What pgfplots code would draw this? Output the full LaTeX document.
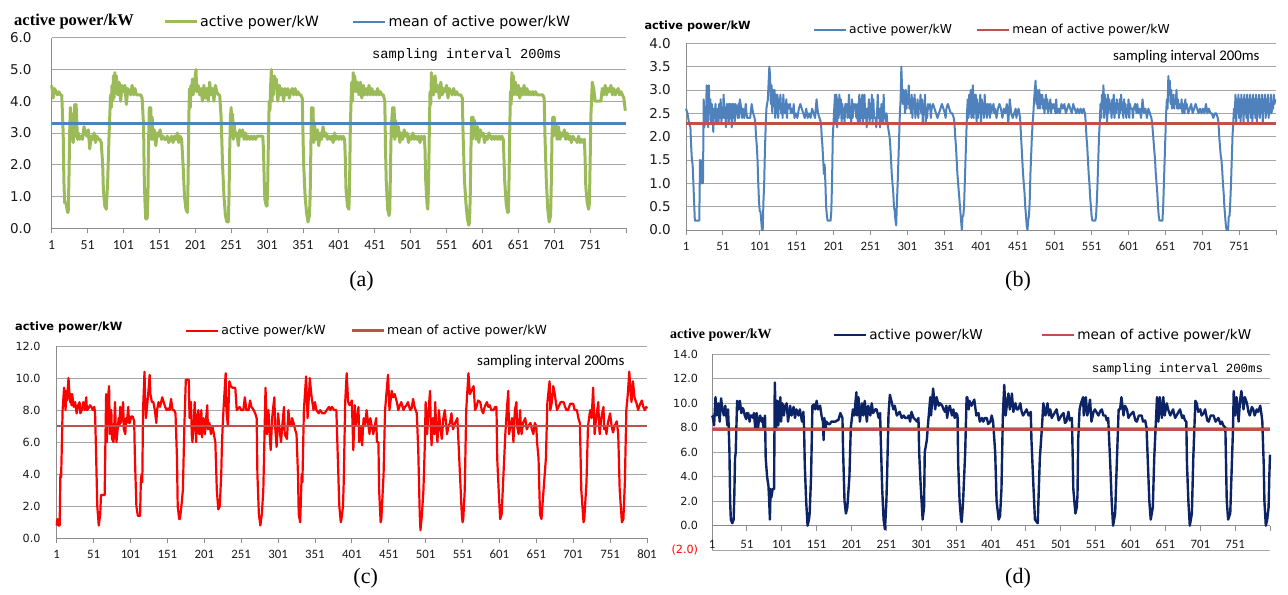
\documentclass[border=0pt]{standalone}
\usepackage{pgfplots}
\pgfplotsset{compat=1.18}
\usepackage{fontspec}
\setmainfont{Liberation Serif}
\newfontfamily\dejavu{DejaVu Sans}
\newfontfamily\carlito{Carlito}
\newfontfamily\lmono{Liberation Mono}
\definecolor{gridgray}{HTML}{A6A6A6}
\definecolor{axisgray}{HTML}{8C8C8C}
\definecolor{tickcol}{HTML}{1A1A1A}
\definecolor{xlgreen}{HTML}{9BBB59}
\definecolor{xlblue}{HTML}{4F81BD}
\definecolor{xlred}{HTML}{C0504D}
\definecolor{xlnavy}{HTML}{0C2466}
\newcommand{\fs}[1]{\fontsize{#1bp}{#1bp}\selectfont}
\pgfplotsset{
 excel/.style={
  scale only axis, enlargelimits=false, clip=false,
  axis x line*=bottom, axis y line*=left,
  axis line style={draw=axisgray, line width=0.9bp},
  ymajorgrids, grid style={draw=gridgray, line width=0.9bp},
  xmin=1, xmax=801, xtick={1,51,...,801},
  xtick align=outside, major tick length=5bp,
  xtick style={draw=axisgray, line width=0.9bp},
  ytick style={draw=none},
  tick label style={text=tickcol},
  hide obscured x ticks=false,
  legend columns=2,
  legend cell align=left,
  legend image code/.code={\draw[##1] (0bp,0bp) -- (32bp,0bp);},
  every axis plot/.append style={line join=round},
 }
}
\begin{document}
\begin{tikzpicture}
\useasboundingbox (0,0) rectangle (1288bp,595bp);
% ---------------- (a)
\begin{axis}[excel, at={(51.7bp,366.7bp)}, anchor=south west,
  width=574.3bp, height=190.6bp, ymin=0, ymax=6, ytick={0,1,...,6},
  yticklabels={0.0,1.0,2.0,3.0,4.0,5.0,6.0},
  xticklabels={1,51,101,151,201,251,301,351,401,451,501,551,601,651,701,751,{}},
  xticklabel style={anchor=center, inner sep=0pt, yshift=-11.5bp, font=\carlito\fs{13.8}},
  yticklabel style={anchor=east, inner sep=0pt, xshift=-20bp, font=\dejavu\fs{13.5}},
  ylabel={active power/kW},
  every axis y label/.style={at={(axis description cs:-0.0714,1.0824)}, anchor=west, font=\bfseries\fs{16.5}},
  legend style={at={(axis description cs:0.1938,1.0824)}, anchor=west, draw=none, fill=none, inner sep=0pt,
    font=\dejavu\fs{14.2}, nodes={inner sep=2bp}, /tikz/every even column/.append style={column sep=31bp}},
]
\addplot[xlgreen, line width=3bp] coordinates {
(1,4.5) (3,4.1) (5,4.4) (7,4.3) (9,4.2) (11,4.3) (13,4.2) (15,4.2) (17,3.0) (18,1.5) (19,0.8) (21,0.8) (23,0.5) (24,0.5) (25,1.5) (26,3.0) (27,3.8) (28,2.8) (29,3.6) (30,3.0) (31,2.7) (32,3.5) (33,3.9) (34,2.9) (35,3.9) (36,3.3) (37,2.8) (38,3.0) (40,2.8) (42,2.9) (44,2.8) (46,3.2) (48,3.0) (50,2.9) (52,3.1) (54,2.5) (56,2.9) (58,2.8) (60,3.0) (62,2.7) (64,2.9) (66,2.8) (68,2.8) (70,2.7) (72,2.0) (73,1.2) (75,0.7) (77,0.6) (79,1.5) (81,3.0) (82,3.6) (83,4.2) (84,3.8) (85,4.5) (86,4.0) (87,4.8) (88,4.1) (89,4.9) (90,4.3) (91,4.8) (93,4.2) (95,4.6) (97,4.0) (99,4.5) (101,4.3) (103,4.5) (105,3.9) (107,4.4) (109,4.3) (111,4.2) (113,4.5) (115,4.2) (117,4.4) (119,4.2) (121,4.2) (123,4.2) (125,4.2) (127,4.1) (129,3.2) (130,1.5) (131,0.8) (132,0.3) (134,0.3) (135,1.0) (136,2.8) (137,3.8) (138,2.9) (139,3.8) (140,2.8) (141,3.5) (142,2.8) (144,3.1) (146,2.6) (148,3.0) (150,2.9) (152,3.1) (154,2.8) (156,2.9) (158,2.8) (160,2.8) (162,2.9) (164,2.7) (166,2.8) (168,2.9) (170,2.7) (172,2.9) (174,2.8) (176,3.0) (178,2.7) (180,2.9) (182,2.8) (184,2.0) (186,1.0) (188,0.6) (190,0.5) (191,1.5) (192,3.5) (193,4.4) (194,3.8) (195,4.5) (196,4.2) (197,4.7) (198,4.2) (200,4.6) (202,5.0) (203,4.3) (205,4.5) (207,4.2) (209,4.4) (211,4.0) (213,4.5) (215,4.1) (217,4.4) (219,4.0) (221,4.6) (223,4.2) (225,4.4) (227,4.0) (229,4.5) (231,4.3) (233,4.2) (235,4.2) (237,3.5) (239,2.0) (241,1.0) (243,0.4) (245,0.2) (247,0.2) (248,1.0) (249,2.5) (250,3.5) (251,3.8) (252,2.9) (253,3.6) (254,2.8) (255,3.3) (257,2.9) (259,3.0) (261,2.6) (263,3.1) (265,2.9) (267,3.1) (269,2.8) (271,3.0) (273,2.8) (275,2.9) (277,2.8) (279,2.9) (281,2.8) (283,2.9) (285,2.8) (287,2.9) (289,2.9) (291,2.9) (293,2.9) (295,2.9) (296,2.5) (297,1.5) (298,0.9) (300,0.7) (301,0.7) (302,1.5) (303,3.0) (304,4.0) (305,3.7) (306,4.5) (307,5.0) (308,4.0) (309,4.7) (310,4.2) (311,4.8) (312,4.4) (314,4.7) (316,4.0) (318,4.5) (320,4.2) (322,4.4) (324,4.0) (326,4.4) (328,4.2) (330,4.4) (332,4.1) (334,4.3) (336,4.4) (338,4.2) (340,4.4) (342,4.2) (344,4.3) (346,4.2) (348,4.2) (350,4.1) (351,3.0) (352,2.0) (354,1.0) (356,0.5) (358,0.2) (360,0.4) (361,1.0) (362,2.5) (363,3.8) (364,2.9) (365,3.8) (366,2.7) (367,3.3) (369,2.8) (371,3.1) (373,2.6) (375,3.0) (377,2.8) (379,3.2) (381,2.9) (383,3.0) (385,2.8) (387,2.9) (389,2.8) (391,2.9) (393,2.7) (395,3.0) (397,2.8) (399,2.9) (401,2.8) (403,2.9) (405,2.8) (407,2.9) (409,2.8) (410,2.2) (411,1.2) (413,0.7) (415,0.6) (416,1.5) (417,3.2) (418,4.0) (419,4.6) (420,4.0) (421,4.9) (422,4.3) (423,4.8) (425,4.3) (427,4.6) (429,4.2) (431,4.6) (433,4.1) (435,4.5) (437,4.2) (439,4.4) (441,4.2) (443,4.5) (445,4.2) (447,4.4) (449,4.2) (451,4.3) (453,4.2) (455,4.4) (457,4.2) (459,4.3) (461,4.2) (463,4.2) (465,4.0) (466,2.5) (467,1.5) (469,0.6) (471,0.4) (472,0.6) (473,2.0) (474,3.2) (476,3.8) (477,2.9) (478,3.8) (479,2.8) (480,3.4) (482,2.9) (484,3.2) (486,2.7) (488,3.0) (490,2.8) (492,3.1) (494,2.9) (496,3.0) (498,2.7) (500,2.9) (502,2.8) (504,3.0) (506,2.8) (508,2.9) (510,2.8) (512,2.9) (514,2.7) (516,2.9) (518,2.8) (520,2.9) (521,2.5) (522,1.5) (524,0.7) (525,0.6) (526,1.5) (527,3.0) (528,4.3) (529,3.9) (530,4.9) (531,4.2) (532,4.6) (533,4.2) (535,4.8) (537,4.3) (539,4.5) (541,4.1) (543,4.6) (545,4.2) (547,4.4) (549,4.3) (551,4.5) (553,4.1) (555,4.4) (557,4.3) (559,4.2) (561,4.4) (563,4.2) (565,4.3) (567,4.2) (569,4.2) (571,4.2) (573,4.1) (574,3.0) (576,1.5) (578,0.8) (580,0.3) (582,0.1) (583,0.2) (584,1.0) (585,2.5) (586,3.5) (587,2.8) (588,3.5) (589,3.0) (590,3.4) (592,2.8) (594,3.2) (596,2.7) (598,3.1) (600,2.9) (602,3.0) (604,2.7) (606,2.9) (608,2.8) (610,3.0) (612,2.9) (614,2.8) (616,2.9) (618,2.8) (620,2.9) (622,2.8) (624,2.9) (626,2.8) (628,2.9) (630,2.8) (631,2.2) (632,1.5) (634,0.8) (636,0.5) (637,0.5) (638,1.5) (639,3.0) (640,4.3) (641,3.9) (642,4.9) (643,4.3) (644,4.8) (645,4.2) (647,4.6) (649,4.2) (651,4.5) (653,4.1) (655,4.4) (657,4.2) (659,4.5) (661,4.2) (663,4.4) (665,4.2) (667,4.3) (669,4.2) (671,4.3) (673,4.2) (675,4.3) (677,4.2) (679,4.2) (681,4.2) (683,4.2) (685,4.2) (687,4.1) (688,3.0) (690,1.5) (692,0.6) (694,0.2) (696,0.4) (697,1.5) (698,3.0) (699,3.5) (700,2.9) (701,3.5) (702,3.0) (703,3.3) (705,2.8) (707,3.2) (709,2.8) (711,3.0) (713,2.9) (715,3.1) (717,2.8) (719,3.0) (721,2.8) (723,2.9) (725,2.7) (727,2.9) (729,2.8) (731,2.8) (733,2.7) (735,2.9) (737,2.7) (739,2.8) (741,2.7) (743,2.8) (744,2.2) (745,1.3) (747,0.8) (749,0.6) (750,0.8) (751,2.0) (752,3.5) (754,4.6) (756,4.4) (758,4.0) (760,4.0) (762,4.0) (764,4.0) (766,4.0) (768,4.4) (770,4.2) (772,4.5) (774,4.2) (776,4.4) (778,4.3) (780,4.5) (782,4.2) (784,4.4) (786,4.2) (788,4.3) (790,4.4) (792,4.2) (794,4.3) (796,4.2) (798,4.1) (800,3.7)};
\addlegendentry{active power/kW}
\addplot[xlblue, line width=2.8bp] coordinates {(1,3.3) (801,3.3)};
\addlegendentry{mean of active power/kW}
\node[anchor=west, inner sep=0pt, font=\lmono\fs{13.7}] at (axis description cs:0.5577,0.9092) {sampling interval 200ms};
\end{axis}
% ---------------- (b)
\begin{axis}[excel, at={(686bp,365bp)}, anchor=south west,
  width=590bp, height=186.7bp, ymin=0, ymax=4, ytick={0,0.5,...,4},
  yticklabels={0.0,0.5,1.0,1.5,2.0,2.5,3.0,3.5,4.0},
  xticklabels={1,51,101,151,201,251,301,351,401,451,501,551,601,651,701,751,{}},
  xticklabel style={anchor=center, inner sep=0pt, yshift=-11bp, font=\carlito\fs{12.8}},
  yticklabel style={anchor=east, inner sep=0pt, xshift=-15bp, font=\dejavu\fs{13.5}},
  ylabel={active power/kW},
  every axis y label/.style={at={(axis description cs:-0.0763,1.092)}, anchor=west, font=\dejavu\bfseries\fs{11.3}},
  legend style={at={(axis description cs:0.2153,1.0712)}, anchor=west, draw=none, fill=none, inner sep=0pt,
    font=\dejavu\fs{12.3}, nodes={inner sep=2bp}, /tikz/every even column/.append style={column sep=22bp}},
]
\addplot[xlblue, line width=2bp] coordinates {
(1,2.6) (3,2.5) (5,2.3) (7,2.2) (8,1.8) (9,1.5) (10,1.4) (11,1.0) (12,0.6) (13,0.2) (15,0.2) (17,0.2) (19,0.2) (20,1.5) (21,1.0) (22,1.0) (23,1.5) (24,1.0) (25,2.8) (26,2.2) (27,2.6) (28,2.3) (29,3.1) (30,2.4) (31,2.2) (32,3.1) (33,2.5) (34,2.8) (35,2.3) (36,2.7) (37,2.5) (38,2.1) (39,2.6) (40,2.4) (41,2.7) (42,2.3) (44,2.6) (45,2.3) (46,2.7) (47,2.4) (48,2.8) (49,2.3) (50,2.6) (51,2.4) (52,2.9) (53,2.4) (54,2.6) (55,2.2) (56,2.7) (57,2.4) (58,2.7) (59,2.3) (60,2.7) (61,2.4) (62,2.7) (63,2.2) (64,2.7) (65,2.4) (66,2.7) (67,2.3) (68,2.7) (70,2.6) (71,2.4) (72,2.7) (73,2.4) (74,2.8) (76,2.6) (77,2.4) (78,2.6) (80,2.4) (82,2.7) (83,2.5) (84,2.4) (86,2.4) (88,2.4) (90,2.7) (92,2.5) (94,2.4) (95,2.3) (96,2.0) (97,1.8) (98,1.5) (99,1.0) (100,0.6) (101,0.4) (102,0.4) (103,0.2) (104,0.0) (105,0.0) (106,0.6) (107,1.0) (108,1.7) (109,2.2) (110,2.6) (112,2.8) (114,3.5) (115,3.3) (116,2.7) (117,3.1) (118,2.5) (119,3.0) (120,2.7) (121,3.0) (122,2.4) (123,2.9) (124,2.5) (125,2.9) (126,2.4) (127,2.8) (128,2.6) (129,2.9) (130,2.5) (131,2.7) (132,2.4) (133,2.9) (134,2.5) (135,2.7) (136,2.5) (137,2.8) (138,2.4) (139,2.7) (140,2.6) (142,2.7) (143,2.5) (144,2.6) (146,2.5) (147,2.7) (148,2.4) (150,2.5) (152,2.4) (154,2.6) (156,2.7) (158,2.6) (160,2.5) (162,2.4) (164,2.6) (166,2.4) (168,2.5) (170,2.4) (172,2.6) (174,2.5) (176,2.4) (178,2.8) (180,2.5) (182,2.4) (184,2.3) (185,2.0) (186,1.8) (187,1.5) (188,1.2) (189,1.4) (190,1.0) (191,0.5) (192,0.3) (193,0.2) (195,0.2) (197,0.2) (198,0.4) (199,1.0) (200,2.0) (201,2.3) (202,2.6) (203,2.9) (204,2.3) (205,2.9) (206,2.2) (207,2.8) (208,2.4) (209,2.9) (210,2.5) (211,2.8) (212,2.3) (213,2.7) (214,2.4) (215,2.6) (216,2.3) (217,2.7) (218,2.6) (219,2.7) (220,2.4) (221,2.6) (222,2.9) (223,2.4) (224,2.6) (225,2.3) (226,2.8) (227,2.4) (228,2.7) (229,2.6) (230,2.7) (232,2.4) (233,2.7) (234,2.3) (235,2.6) (236,2.9) (237,2.3) (238,2.8) (239,2.4) (240,2.9) (241,2.3) (242,2.5) (243,2.9) (244,2.4) (245,2.6) (246,2.2) (247,2.6) (248,2.5) (249,2.8) (250,2.3) (251,2.7) (252,2.4) (253,2.9) (254,2.3) (255,2.8) (256,2.4) (258,2.4) (259,2.2) (260,2.5) (261,2.9) (262,2.4) (263,2.6) (264,2.2) (266,2.7) (267,2.4) (268,2.3) (269,2.9) (270,2.4) (271,2.5) (272,2.3) (273,2.5) (274,2.3) (275,2.2) (277,2.0) (278,1.8) (279,1.5) (280,1.2) (281,1.0) (282,0.8) (283,0.5) (284,0.4) (285,0.2) (286,0.1) (287,0.6) (288,1.0) (289,1.5) (290,2.0) (291,2.5) (292,2.8) (293,3.5) (294,3.0) (295,2.7) (296,3.0) (297,2.8) (298,2.5) (299,3.0) (300,2.6) (301,2.9) (302,2.7) (303,3.1) (304,2.6) (305,2.8) (306,2.5) (307,2.9) (308,2.4) (309,2.8) (310,2.6) (311,2.9) (312,2.4) (313,2.7) (314,2.5) (315,2.8) (316,2.4) (317,2.7) (318,2.6) (319,2.9) (320,2.5) (321,2.8) (322,2.3) (323,2.7) (324,2.5) (325,2.9) (326,2.3) (327,2.6) (328,2.4) (329,2.7) (330,2.6) (332,2.7) (333,2.4) (334,2.6) (336,2.7) (338,2.6) (340,2.5) (342,2.4) (344,2.5) (346,2.6) (348,2.7) (350,2.6) (352,2.5) (353,2.4) (354,2.6) (356,2.7) (358,2.6) (360,2.5) (362,2.5) (364,2.4) (365,2.3) (366,2.0) (367,1.8) (368,1.5) (369,1.2) (370,1.0) (371,0.8) (372,0.6) (373,0.4) (374,0.2) (375,0.0) (376,0.3) (377,0.3) (378,0.5) (379,1.0) (380,1.5) (381,2.0) (382,2.5) (383,2.8) (384,2.4) (385,2.9) (386,2.5) (387,3.0) (388,2.4) (389,2.8) (390,3.1) (391,2.4) (392,2.9) (393,2.5) (394,2.9) (395,2.3) (396,2.8) (397,2.4) (398,2.7) (399,2.5) (400,2.9) (401,2.3) (402,2.8) (403,2.5) (404,2.7) (405,2.4) (406,2.9) (407,2.5) (408,2.7) (409,2.4) (410,2.7) (411,2.5) (412,2.7) (413,2.4) (414,2.7) (415,2.5) (416,2.6) (418,2.7) (419,2.5) (420,2.6) (422,2.4) (424,2.6) (426,2.7) (428,2.6) (430,2.4) (432,2.6) (434,2.5) (436,2.7) (438,2.3) (440,2.8) (442,2.5) (444,2.4) (446,2.5) (448,2.6) (449,2.4) (450,2.5) (452,2.6) (454,2.4) (455,2.1) (456,1.8) (457,1.5) (458,1.2) (459,1.0) (460,0.8) (461,0.5) (462,0.3) (463,0.1) (464,0.0) (465,0.2) (466,0.3) (467,0.6) (468,1.2) (469,1.6) (470,2.0) (471,2.3) (472,2.5) (473,2.8) (474,3.0) (475,3.2) (476,2.7) (477,3.0) (478,2.6) (479,2.8) (480,3.0) (481,2.6) (482,2.9) (483,2.7) (484,2.9) (485,2.6) (486,2.8) (487,2.5) (488,2.7) (489,2.9) (490,2.6) (491,2.8) (492,2.5) (493,2.7) (494,2.6) (495,2.8) (496,2.5) (497,2.7) (498,2.6) (500,2.7) (502,2.5) (503,2.8) (504,2.5) (506,2.6) (508,2.5) (510,2.7) (512,2.6) (514,2.7) (516,2.5) (518,2.6) (520,2.7) (522,2.6) (524,2.5) (526,2.7) (528,2.6) (530,2.5) (532,2.6) (534,2.5) (536,2.6) (538,2.5) (540,2.6) (542,2.5) (543,2.3) (544,2.0) (545,1.8) (546,1.5) (547,1.2) (548,1.0) (549,0.7) (550,0.5) (551,0.3) (552,0.2) (554,0.2) (556,0.2) (557,0.3) (558,0.6) (559,1.0) (560,1.5) (561,2.0) (562,2.3) (563,2.7) (564,2.4) (565,2.9) (566,2.6) (567,3.1) (568,2.4) (569,2.9) (570,2.5) (571,2.8) (572,2.3) (573,2.9) (574,2.5) (575,2.8) (576,2.6) (577,2.7) (578,2.4) (579,2.8) (580,2.5) (581,2.9) (582,2.4) (583,2.7) (584,2.5) (585,2.8) (586,2.6) (587,2.7) (588,2.4) (589,2.8) (590,2.5) (591,2.9) (592,2.6) (593,2.7) (594,2.4) (595,2.8) (596,2.5) (597,2.7) (598,2.4) (599,2.6) (600,2.5) (601,2.8) (602,2.4) (603,2.7) (604,2.6) (606,2.6) (607,2.4) (608,2.6) (610,2.7) (612,2.5) (613,2.7) (614,2.5) (616,2.6) (618,2.4) (620,2.8) (622,2.5) (624,2.6) (626,2.4) (628,2.6) (630,2.5) (632,2.4) (633,2.3) (634,2.1) (635,1.9) (636,1.7) (637,1.5) (638,1.2) (639,1.0) (640,0.8) (641,0.5) (642,0.3) (643,0.2) (645,0.2) (647,0.2) (648,0.5) (649,1.0) (650,1.5) (651,2.0) (652,2.5) (653,2.8) (654,2.6) (655,3.3) (656,2.9) (657,3.2) (658,2.7) (659,3.0) (660,2.6) (661,2.8) (662,2.9) (663,2.6) (664,2.8) (665,2.7) (666,3.0) (667,2.6) (668,2.8) (669,2.6) (670,2.7) (672,2.6) (673,2.8) (674,2.5) (676,2.7) (677,2.5) (678,2.8) (679,2.6) (680,2.7) (682,2.5) (684,2.6) (686,2.7) (688,2.5) (690,2.6) (692,2.7) (694,2.6) (696,2.5) (698,2.6) (700,2.5) (702,2.6) (704,2.5) (706,2.7) (708,2.5) (710,2.6) (712,2.5) (714,2.5) (716,2.4) (718,2.5) (720,2.5) (722,2.4) (723,2.3) (724,2.0) (725,1.8) (726,1.6) (727,1.5) (728,1.3) (729,1.0) (730,0.8) (731,0.5) (732,0.3) (733,0.1) (734,0.0) (736,0.0) (737,0.3) (738,0.3) (739,0.6) (740,1.0) (741,1.5) (742,2.0) (743,2.3) (744,2.6) (745,2.4) (746,2.9) (747,2.3) (748,2.8) (749,2.5) (750,2.9) (751,2.4) (752,2.8) (753,2.3) (754,2.9) (755,2.5) (756,2.8) (757,2.3) (758,2.9) (759,2.5) (760,2.8) (761,2.4) (762,2.9) (763,2.3) (764,2.8) (765,2.5) (766,2.9) (767,2.4) (768,2.8) (769,2.3) (770,2.9) (771,2.5) (772,2.8) (773,2.4) (774,2.9) (775,2.3) (776,2.8) (777,2.5) (778,2.9) (779,2.4) (780,2.8) (781,2.5) (782,2.9) (783,2.3) (784,2.8) (785,2.6) (786,2.9) (787,2.4) (788,2.8) (789,2.5) (790,2.9) (791,2.4) (792,2.7) (793,2.5) (794,2.9) (795,2.5) (796,2.7) (797,2.6) (798,2.9) (799,2.7) (800,2.8)};
\addlegendentry{active power/kW}
\addplot[xlred, line width=2.4bp] coordinates {(1,2.28) (801,2.28)};
\addlegendentry{mean of active power/kW}
\node[anchor=west, inner sep=0pt, font=\carlito\fs{14.8}] at (axis description cs:0.7237,0.9266) {sampling interval 200ms};
\end{axis}
% ---------------- (c)
\begin{axis}[excel, at={(56.7bp,56.7bp)}, anchor=south west,
  width=590.3bp, height=192.3bp, ymin=0, ymax=12, ytick={0,2,...,12},
  yticklabels={0.0,2.0,4.0,6.0,8.0,10.0,12.0},
  xticklabels={1,51,101,151,201,251,301,351,401,451,501,551,601,651,701,751,801},
  xticklabel style={anchor=center, inner sep=0pt, yshift=-11bp, font=\carlito\fs{12.8}},
  yticklabel style={anchor=east, inner sep=0pt, xshift=-16bp, font=\dejavu\fs{11.2}},
  ylabel={active power/kW},
  every axis y label/.style={at={(axis description cs:-0.0762,1.0988)}, anchor=west, font=\dejavu\bfseries\fs{11.4}},
  legend style={at={(axis description cs:0.2173,1.0796)}, anchor=west, draw=none, fill=none, inner sep=0pt,
    font=\dejavu\fs{12.5}, nodes={inner sep=2bp}, /tikz/every even column/.append style={column sep=23bp}},
]
\addplot[red, line width=2.2bp] coordinates {
(1,0.8) (2,1.2) (3,0.8) (5,0.8) (6,4.0) (7,3.8) (9,8.0) (11,9.4) (13,8.0) (14,9.2) (15,8.6) (17,10.0) (19,8.5) (20,9.0) (21,8.3) (22,9.0) (24,8.2) (26,8.5) (28,7.8) (30,8.3) (32,8.5) (33,7.8) (35,8.0) (37,8.5) (39,8.0) (41,8.8) (42,8.0) (44,8.1) (46,8.3) (48,8.2) (50,8.0) (52,8.2) (53,7.8) (54,6.0) (56,2.0) (58,0.8) (60,1.5) (61,2.7) (63,2.7) (66,2.7) (67,6.0) (68,9.0) (69,6.0) (70,8.5) (72,9.5) (73,6.5) (74,7.5) (75,8.0) (76,6.2) (78,6.0) (79,7.0) (80,8.5) (81,7.0) (82,6.0) (83,6.5) (85,7.5) (86,7.0) (87,8.2) (88,7.2) (89,7.5) (91,8.5) (92,6.8) (94,6.5) (95,7.5) (96,7.2) (98,8.2) (99,7.2) (100,7.2) (102,7.6) (104,7.6) (106,7.3) (107,5.0) (109,2.0) (111,1.4) (114,1.4) (115,3.5) (116,4.0) (117,3.5) (118,8.0) (120,10.4) (121,8.5) (122,7.5) (123,8.0) (125,9.0) (127,10.2) (128,9.0) (130,8.5) (132,8.5) (134,8.0) (136,7.2) (137,8.0) (139,8.5) (141,8.2) (143,8.6) (144,8.8) (146,8.5) (148,8.2) (150,8.0) (152,8.1) (154,8.0) (156,8.7) (158,8.0) (160,8.0) (162,7.8) (164,5.0) (165,2.0) (167,1.2) (168,1.2) (170,2.0) (172,3.0) (174,7.0) (176,9.9) (178,9.9) (180,9.9) (181,7.5) (183,8.5) (184,6.5) (185,6.0) (187,7.5) (188,8.5) (190,6.0) (191,7.5) (193,8.0) (194,6.5) (195,6.5) (197,8.0) (198,6.3) (200,7.5) (202,6.5) (203,7.2) (205,8.3) (206,6.8) (208,7.2) (210,6.5) (212,7.0) (214,6.5) (216,6.0) (218,3.0) (220,1.8) (222,2.0) (224,4.0) (225,6.0) (227,8.0) (230,10.3) (231,8.0) (233,7.0) (235,9.8) (237,9.5) (239,9.4) (241,9.4) (243,9.4) (245,8.0) (247,8.1) (249,8.2) (251,8.0) (254,8.0) (256,8.8) (258,8.0) (261,8.0) (263,8.6) (265,8.2) (268,8.0) (270,7.8) (272,7.5) (273,4.0) (275,1.5) (277,0.8) (279,1.5) (281,3.0) (284,9.4) (286,6.5) (288,8.0) (289,7.0) (291,5.5) (293,7.5) (294,8.0) (296,8.8) (297,7.0) (299,5.7) (300,6.5) (301,7.8) (303,6.8) (305,6.0) (307,7.2) (309,8.2) (310,6.5) (313,6.2) (314,7.0) (315,8.0) (317,7.0) (319,7.0) (320,7.5) (322,7.2) (324,6.8) (326,6.5) (328,4.0) (329,1.5) (331,1.0) (333,4.0) (334,3.5) (336,8.0) (339,10.1) (341,7.5) (343,9.0) (344,10.0) (346,9.0) (349,8.0) (351,8.5) (353,8.0) (356,7.8) (358,8.0) (361,7.8) (364,7.8) (367,8.0) (370,8.2) (372,8.0) (374,8.2) (377,8.0) (380,8.0) (382,5.0) (384,2.0) (386,1.0) (387,1.2) (389,2.0) (390,3.5) (392,8.5) (394,10.3) (396,8.5) (398,8.3) (401,8.6) (402,7.0) (403,5.5) (405,8.3) (406,7.0) (408,7.5) (410,8.2) (411,6.0) (413,7.0) (415,5.8) (416,6.8) (417,7.5) (419,7.0) (421,8.0) (423,7.2) (425,6.5) (426,7.5) (428,7.0) (430,6.5) (432,7.0) (434,7.5) (435,6.0) (437,6.0) (438,3.0) (440,1.0) (441,1.2) (444,4.0) (446,8.0) (450,10.2) (452,8.0) (455,9.2) (457,8.8) (459,9.0) (462,8.5) (464,8.0) (466,8.3) (468,8.5) (471,8.0) (473,8.2) (475,8.3) (477,8.5) (480,8.0) (482,8.1) (484,8.7) (486,8.2) (489,7.8) (491,5.5) (493,1.5) (494,0.5) (496,1.5) (498,3.0) (500,6.0) (501,8.5) (503,6.5) (505,8.0) (507,9.2) (508,7.0) (509,5.8) (511,7.5) (513,6.5) (514,8.5) (515,7.2) (517,6.0) (518,7.0) (519,8.0) (521,6.8) (523,6.2) (525,7.5) (527,8.0) (529,7.0) (530,6.5) (532,7.0) (534,7.2) (536,7.8) (538,6.8) (541,7.2) (544,7.5) (545,6.5) (547,4.5) (550,1.5) (551,1.0) (552,1.2) (554,3.0) (556,8.0) (559,10.3) (561,9.0) (563,9.2) (566,9.5) (568,8.0) (570,8.2) (572,8.6) (575,8.5) (577,8.0) (579,7.8) (581,8.2) (584,8.5) (586,8.2) (588,8.3) (590,8.0) (593,8.0) (595,8.2) (597,8.2) (598,5.0) (600,3.0) (602,1.2) (604,1.5) (606,3.5) (609,6.5) (611,8.0) (613,9.2) (614,6.5) (616,7.0) (618,7.5) (620,6.0) (621,7.2) (622,8.0) (624,8.5) (625,7.0) (627,6.5) (629,8.0) (630,7.0) (631,6.5) (633,7.2) (636,7.5) (638,6.8) (640,7.0) (643,7.2) (645,6.8) (647,6.5) (649,7.2) (651,7.0) (652,6.0) (654,5.0) (656,1.5) (658,1.2) (660,2.5) (664,5.0) (666,8.5) (669,9.8) (670,8.0) (672,8.5) (674,9.5) (676,9.0) (679,8.0) (681,8.2) (684,8.5) (688,8.5) (690,8.2) (692,8.0) (694,8.0) (697,8.4) (701,8.4) (703,8.0) (706,8.0) (708,7.5) (710,7.2) (712,3.0) (715,1.0) (716,1.2) (719,3.5) (721,7.0) (724,8.0) (726,7.5) (728,9.4) (730,6.5) (732,7.5) (735,8.5) (736,7.0) (737,6.5) (739,7.5) (742,8.2) (743,6.8) (745,7.0) (746,6.5) (748,7.2) (751,7.8) (753,7.0) (755,6.6) (757,7.0) (760,7.3) (762,6.5) (764,3.0) (767,1.0) (769,1.2) (771,3.5) (773,8.0) (775,9.0) (777,10.4) (779,9.0) (780,8.5) (782,9.8) (784,8.8) (787,8.4) (789,8.0) (791,8.3) (794,8.6) (796,8.2) (798,8.0) (800,8.2) (801,8.1)};
\addlegendentry{active power/kW}
\addplot[xlred, line width=2.4bp] coordinates {(1,7.0) (801,7.0)};
\addlegendentry{mean of active power/kW}
\node[anchor=west, inner sep=0pt, font=\carlito\fs{14.9}] at (axis description cs:0.712,0.9183) {sampling interval 200ms};
\end{axis}
% ---------------- (d)
\begin{axis}[excel, at={(712bp,44.8bp)}, anchor=south west, axis x line*=middle,
  width=558bp, height=195.9bp, ymin=-2, ymax=14, ytick={-2,0,...,14},
  yticklabels={{\color{red}(2.0)},0.0,2.0,4.0,6.0,8.0,10.0,12.0,14.0},
  xticklabels={1,51,101,151,201,251,301,351,401,451,501,551,601,651,701,751,{}},
  xticklabel style={anchor=center, inner sep=0pt, yshift=-14bp, font=\carlito\fs{12.8}},
  yticklabel style={anchor=east, inner sep=0pt, xshift=-13.7bp, font=\dejavu\fs{11.2}},
  ylabel={active power/kW},
  every axis y label/.style={at={(axis description cs:-0.0812,1.0985)}, anchor=west, font=\bfseries\fs{14}},
  legend style={at={(axis description cs:0.2163,1.0985)}, anchor=west, draw=none, fill=none, inner sep=0pt,
    font=\dejavu\fs{13.6}, nodes={inner sep=2bp}, /tikz/every even column/.append style={column sep=56bp}},
]
\addplot[xlnavy, line width=2.4bp] coordinates {
(1,9.0) (2,8.9) (4,8.2) (6,10.5) (8,9.0) (10,10.0) (12,8.5) (14,10.4) (16,9.5) (18,9.0) (20,9.8) (21,9.2) (22,8.8) (23,8.2) (24,9.5) (25,8.0) (26,6.0) (27,2.0) (28,0.5) (30,0.2) (32,0.5) (33,2.5) (34,5.5) (35,6.0) (37,10.2) (39,9.5) (40,10.0) (41,10.2) (43,9.2) (45,9.6) (46,9.5) (48,9.0) (50,8.7) (51,9.2) (53,9.2) (55,8.5) (56,9.0) (58,9.0) (60,8.8) (61,9.2) (63,8.0) (65,9.2) (67,8.0) (68,8.5) (70,9.0) (72,8.5) (73,8.8) (75,8.0) (77,9.0) (78,5.5) (80,4.0) (82,3.2) (83,2.0) (84,0.5) (85,3.0) (86,2.3) (88,3.0) (90,3.0) (91,11.7) (93,8.0) (95,10.2) (96,8.2) (97,9.5) (99,10.5) (100,8.5) (102,10.0) (104,9.0) (106,9.8) (108,10.0) (110,8.5) (113,9.8) (115,9.0) (118,9.7) (120,8.8) (122,9.5) (125,9.0) (127,9.5) (130,8.5) (132,9.3) (133,8.0) (134,5.0) (136,2.0) (138,0.0) (140,0.5) (141,1.0) (143,4.0) (145,9.8) (147,9.9) (149,9.5) (151,10.2) (153,9.5) (156,9.8) (158,9.0) (160,8.5) (161,7.0) (162,8.8) (164,8.0) (165,8.5) (168,8.3) (170,8.3) (172,8.5) (175,8.5) (178,8.5) (180,8.6) (182,8.6) (185,9.2) (188,8.8) (189,6.0) (191,2.0) (193,1.0) (195,1.5) (198,4.0) (200,8.0) (203,9.5) (205,9.0) (208,10.9) (209,9.0) (211,10.5) (213,8.5) (216,10.0) (218,9.0) (220,10.2) (223,8.5) (225,9.8) (228,9.0) (230,10.0) (232,9.2) (235,9.5) (237,9.5) (240,8.8) (242,9.2) (243,7.0) (245,3.0) (247,0.5) (249,-0.3) (251,2.0) (252,4.0) (254,9.0) (256,10.7) (259,10.0) (261,9.5) (263,9.8) (266,9.0) (270,9.3) (273,8.8) (276,9.0) (278,8.8) (281,8.8) (283,9.0) (285,8.5) (287,9.3) (290,8.8) (292,8.7) (295,8.5) (297,8.8) (298,6.0) (300,3.5) (302,1.5) (303,0.5) (305,1.5) (306,6.0) (309,7.0) (311,8.5) (314,10.5) (315,9.0) (318,11.2) (321,9.5) (323,10.5) (326,9.8) (328,10.0) (331,9.8) (333,9.5) (335,9.3) (337,9.8) (338,8.8) (340,9.5) (342,9.8) (345,9.0) (347,9.5) (349,8.8) (351,9.2) (353,9.0) (354,5.0) (356,2.0) (358,0.5) (359,0.3) (361,2.0) (364,6.0) (366,10.5) (367,10.5) (369,9.5) (370,10.2) (373,9.8) (377,10.3) (380,9.0) (383,9.2) (385,8.5) (388,8.8) (390,8.5) (392,8.8) (395,8.8) (397,8.3) (400,8.5) (402,9.0) (404,8.5) (407,6.0) (409,2.0) (412,0.5) (414,0.8) (416,3.0) (418,9.0) (420,11.5) (422,9.0) (424,10.0) (426,10.8) (428,9.5) (431,10.8) (433,9.3) (436,10.0) (438,9.5) (440,9.5) (443,10.0) (445,9.3) (447,9.0) (450,9.3) (452,9.5) (455,9.0) (458,9.3) (459,7.0) (462,3.0) (464,0.5) (468,0.2) (469,2.0) (471,5.5) (474,8.0) (476,10.0) (479,9.0) (482,10.0) (484,9.0) (486,9.5) (488,8.8) (490,9.0) (493,9.3) (495,9.5) (498,8.6) (500,8.8) (502,9.0) (505,9.2) (507,8.4) (509,8.5) (512,9.3) (514,8.6) (517,8.8) (518,6.0) (519,3.0) (522,1.0) (524,1.5) (525,2.5) (526,7.0) (528,9.5) (530,10.0) (533,10.5) (534,9.0) (536,9.8) (537,10.5) (539,9.0) (541,9.5) (543,10.3) (545,8.5) (548,9.3) (550,9.5) (553,9.2) (555,9.0) (558,9.4) (560,9.5) (562,9.0) (565,9.0) (567,8.6) (569,8.8) (572,5.0) (574,2.0) (576,0.0) (579,1.0) (581,4.5) (584,9.5) (586,9.5) (588,10.5) (591,9.0) (593,9.8) (596,9.5) (598,8.8) (600,9.0) (603,9.2) (605,9.3) (608,8.6) (610,8.5) (613,9.0) (617,9.0) (619,8.5) (622,8.6) (624,8.0) (626,5.0) (628,2.0) (630,0.5) (633,1.5) (635,5.5) (639,10.5) (641,8.5) (643,10.5) (646,8.8) (648,10.5) (650,9.0) (653,10.0) (655,9.5) (658,9.0) (662,9.5) (665,8.8) (667,9.0) (670,9.3) (672,9.5) (675,8.8) (677,9.0) (679,8.6) (681,8.5) (682,5.0) (684,2.0) (686,0.0) (689,1.0) (691,5.5) (694,10.2) (696,10.0) (698,9.3) (701,9.5) (703,9.0) (706,9.2) (708,9.5) (711,8.6) (713,8.5) (716,9.0) (720,9.0) (723,8.5) (727,8.8) (730,8.3) (732,8.5) (734,8.2) (737,8.0) (738,5.0) (739,2.0) (741,0.5) (744,1.0) (746,4.5) (748,8.0) (749,11.0) (751,9.0) (753,10.5) (756,8.5) (758,10.2) (760,11.0) (763,9.5) (765,10.5) (768,10.0) (770,9.3) (772,9.0) (775,9.7) (777,9.5) (779,9.0) (782,9.5) (784,9.3) (787,9.8) (789,9.0) (790,8.5) (792,5.0) (793,2.0) (795,0.0) (797,0.5) (799,1.5) (800,4.0) (801,5.8)};
\addlegendentry{active power/kW}
\addplot[xlred, line width=2.4bp] coordinates {(1,7.87) (801,7.87)};
\addlegendentry{mean of active power/kW}
\node[anchor=west, inner sep=0pt, font=\lmono\fs{12.4}] at (axis description cs:0.6805,0.925) {sampling interval 200ms};
\end{axis}
% captions
\node[font=\fs{22}] at (361.6bp,314bp) {(a)};
\node[font=\fs{22}] at (1018bp,314bp) {(b)};
\node[font=\fs{22}] at (365.7bp,17bp) {(c)};
\node[font=\fs{22}] at (1018bp,17bp) {(d)};
\end{tikzpicture}
\end{document}
